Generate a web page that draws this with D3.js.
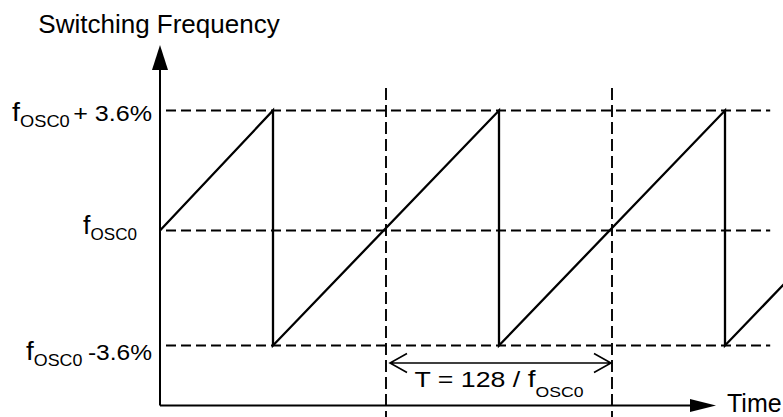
<!DOCTYPE html>
<html>
<head>
<meta charset="utf-8">
<style>
  html, body { margin: 0; padding: 0; background: #fff; overflow: hidden; }
  svg { display: block; }
  text { font-family: "Liberation Sans", Arial, Helvetica, sans-serif; fill: #000; }
</style>
<script src="https://cdn.jsdelivr.net/npm/d3@7"></script>
</head>
<body>
<div id="root"></div>
<script>
// -------- Data --------
// frequency levels, in % deviation from fOSC0
const levelValues = [3.6, 0, -3.6]
const levelSuffix = ['+ 3.6%', '', '-3.6%']

// sawtooth vertices: time in modulation periods, deviation in %
const sawTime = [0, 0.5, 0.5, 1.5, 1.5, 2.5, 2.5, 3.5]
const sawDev = [0, 3.6, -3.6, 3.6, -3.6, 3.6, -3.6, 3.6]

// period markers (vertical dashed lines), in periods
const periodMarks = [1, 2]
const periodText = 'T = 128 / '

const yTitle = 'Switching Frequency'
const xTitle = 'Time'

// -------- Visualization Code --------
const W = 783
const H = 417

const svg = d3.select('#root').append('svg')
  .attr('width', W)
  .attr('height', H)

const x = d3.scaleLinear().domain([0, 3]).range([160, 838])
const y = d3.scaleLinear().domain([-3.6, 0, 3.6]).range([345.5, 230.5, 110.5])

const x0 = x(0)
const axisBottom = 405.5

// horizontal dashed level lines
svg.append('g')
  .selectAll('line')
  .data(levelValues)
  .join('line')
  .attr('x1', x0 + 6)
  .attr('x2', x(2.7))
  .attr('y1', d => y(d))
  .attr('y2', d => y(d))
  .attr('stroke', '#000')
  .attr('stroke-width', 1.9)
  .attr('stroke-dasharray', '10 5')

// vertical dashed period lines
svg.append('g')
  .selectAll('line')
  .data(periodMarks)
  .join('line')
  .attr('x1', d => x(d))
  .attr('x2', d => x(d))
  .attr('y1', 88)
  .attr('y2', H)
  .attr('stroke', '#000')
  .attr('stroke-width', 1.9)
  .attr('stroke-dasharray', '12 5')

// sawtooth
const points = sawTime.map((t, i) => ({ t, v: sawDev[i] }))
const saw = d3.line()
  .x(d => x(d.t))
  .y(d => y(d.v))

svg.append('path')
  .datum(points)
  .attr('d', saw)
  .attr('fill', 'none')
  .attr('stroke', '#000')
  .attr('stroke-width', 2.3)
  .attr('stroke-linejoin', 'miter')

// axes
const xEnd = 690
const yEnd = 70
svg.append('path')
  .attr('d', `M${x0},${axisBottom}V${yEnd}M${x0},${axisBottom}H${xEnd}`)
  .attr('fill', 'none')
  .attr('stroke', '#000')
  .attr('stroke-width', 2)

svg.append('path')
  .attr('d', `M${x0 - 8},${yEnd}L${x0},${yEnd - 25}L${x0 + 8},${yEnd}Z`)
  .attr('fill', '#000')
svg.append('path')
  .attr('d', `M${xEnd},${axisBottom - 6.5}L${xEnd + 26},${axisBottom}L${xEnd},${axisBottom + 6.5}Z`)
  .attr('fill', '#000')

// period double arrow
const ay = 363
const ax1 = x(periodMarks[0]) + 4
const ax2 = x(periodMarks[1]) - 1
svg.append('path')
  .attr('d', `M${ax1},${ay}H${ax2}` +
    `M${ax1 + 17},${ay - 9.5}L${ax1},${ay}L${ax1 + 17},${ay + 9.5}` +
    `M${ax2 - 17},${ay - 9.5}L${ax2},${ay}L${ax2 - 17},${ay + 9.5}`)
  .attr('fill', 'none')
  .attr('stroke', '#000')
  .attr('stroke-width', 1.6)

// stretch a text horizontally so it spans the wanted width
function fit(text, px, py, width) {
  const w = text.node().getBBox().width
  text.attr('transform', `translate(${px},${py}) scale(${width / w},1)`)
}

// level labels
const labelLayout = [
  { right: 152, width: 140, dy: 10.2 },
  { right: 137, width: 54, dy: 3.5 },
  { right: 152, width: 126, dy: 14.5 }
]

levelValues.forEach((v, i) => {
  const t = svg.append('text').attr('text-anchor', 'end').attr('font-size', 22)
  t.append('tspan').attr('font-size', 25).text('f')
  t.append('tspan').attr('font-size', 16).attr('dy', 6).text('OSC0')
  if (levelSuffix[i]) {
    t.append('tspan').attr('dy', -6).attr('dx', i === 0 ? 3 : 5).text(levelSuffix[i])
  }
  const l = labelLayout[i]
  fit(t, l.right, y(v) + l.dy, l.width)
})

// period label
const pt = svg.append('text').attr('text-anchor', 'middle').attr('font-size', 22)
pt.append('tspan').text(periodText)
pt.append('tspan').attr('font-size', 23).text('f')
pt.append('tspan').attr('font-size', 14.5).attr('dy', 10.6).text('OSC0')
fit(pt, x(1.5), 386.7, 169)

// axis titles
svg.append('text')
  .attr('x', x0 - 1)
  .attr('y', 33)
  .attr('text-anchor', 'middle')
  .attr('font-size', 26)
  .text(yTitle)

svg.append('text')
  .attr('x', 727)
  .attr('y', 412)
  .attr('font-size', 25)
  .text(xTitle)
</script>
</body>
</html>
